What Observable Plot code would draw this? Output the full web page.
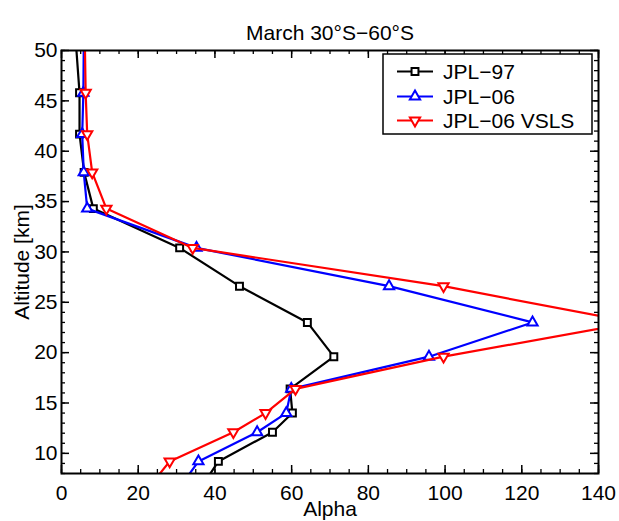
<!DOCTYPE html>
<html>
<head>
<meta charset="utf-8">
<script src="https://cdn.jsdelivr.net/npm/d3@7"></script>
<script src="https://cdn.jsdelivr.net/npm/@observablehq/plot@0.6"></script>
<style>
  html, body { margin: 0; padding: 0; background: #fff; }
  svg { display: block; font-family: "Liberation Sans", Arial, sans-serif; }
</style>
</head>
<body>
<div id="chart"></div>
<script>
// ---- data ----
const altitude = [50.5, 45.8, 41.7, 37.9, 34.3, 30.4, 26.6, 23.0, 19.6, 16.4, 14.0, 12.1, 9.2, 6.5];
const jpl97    = [3.8, 4.7, 4.7, 5.9, 8.3, 30.8, 46.4, 64.1, 71.0, 59.6, 60.2, 55.0, 40.9, 36.2];
const jpl06    = [5.8, 5.7, 5.4, 5.8, 6.7, 35.2, 85.4, 122.8, 95.8, 59.9, 58.6, 51.0, 35.7, 30.6];
const jpl06vsls= [6.1, 6.3, 6.7, 8.0, 11.7, 34.2, 99.6, 149.0, 99.6, 61.0, 53.2, 44.8, 28.2, 22.5];

const seriesNames = ["JPL\u221297", "JPL\u221206", "JPL\u221206 VSLS"];
const seriesColors = ["black", "blue", "red"];
const seriesSymbols = ["square", "triangle", "triangle"];
const seriesRotate = [0, 0, 180];

const xTicks = [0, 20, 40, 60, 80, 100, 120, 140];
const xMinor = d3.range(0, 141, 5);
const yTicks = [10, 15, 20, 25, 30, 35, 40, 45, 50];
const yMinor = d3.range(8, 51, 1);

const titleText = "March 30\u00b0S\u221260\u00b0S";
const xLabel = "Alpha";
const yLabel = "Altitude [km]";

// ---- layout ----
const W = 619, H = 521;
const mL = 61, mR = 21, mT = 50, mB = 48;
const fw = W - mL - mR, fh = H - mT - mB;
const FS = 21;

const values = [jpl97, jpl06, jpl06vsls];
const seriesData = values.map((vals, i) =>
  altitude.map((a, j) => ({alt: a, val: vals[j], series: seriesNames[i]}))
);

const marks = [];
// ticks (inward, all four sides)
marks.push(Plot.tickX(xMinor, {x: d => d, insetTop: fh - 4, stroke: "black", strokeWidth: 1.3}));
marks.push(Plot.tickX(xMinor, {x: d => d, insetBottom: fh - 4, stroke: "black", strokeWidth: 1.3}));
marks.push(Plot.tickX(xTicks, {x: d => d, insetTop: fh - 8, stroke: "black", strokeWidth: 1.5}));
marks.push(Plot.tickX(xTicks, {x: d => d, insetBottom: fh - 8, stroke: "black", strokeWidth: 1.5}));
marks.push(Plot.tickY(yMinor, {y: d => d, insetRight: fw - 4, stroke: "black", strokeWidth: 1.3}));
marks.push(Plot.tickY(yMinor, {y: d => d, insetLeft: fw - 4, stroke: "black", strokeWidth: 1.3}));
marks.push(Plot.tickY(yTicks, {y: d => d, insetRight: fw - 8, stroke: "black", strokeWidth: 1.5}));
marks.push(Plot.tickY(yTicks, {y: d => d, insetLeft: fw - 8, stroke: "black", strokeWidth: 1.5}));

// tick labels
marks.push(Plot.axisX(xTicks, {anchor: "bottom", tickSize: 0, tickPadding: 12, fontSize: FS, label: null}));
marks.push(Plot.axisY(yTicks, {anchor: "left", tickSize: 0, tickPadding: 4, fontSize: FS, label: null}));

// series
seriesData.forEach((d, i) => {
  marks.push(Plot.line(d, {x: "val", y: "alt", stroke: seriesColors[i], strokeWidth: 2.2, clip: true}));
  marks.push(Plot.dot(d, {
    x: "val", y: "alt", symbol: seriesSymbols[i], rotate: seriesRotate[i],
    r: i === 0 ? 3.9 : 3.8, stroke: seriesColors[i], fill: "white", strokeWidth: 2, clip: true
  }));
});

marks.push(Plot.frame({stroke: "black", strokeWidth: 2}));

// titles
marks.push(Plot.text([titleText], {frameAnchor: "top", dy: -25, fontSize: FS, fill: "black"}));
marks.push(Plot.text([xLabel], {frameAnchor: "bottom", dy: 42, fontSize: FS, fill: "black"}));
marks.push(Plot.text([yLabel], {frameAnchor: "left", textAnchor: "middle", dx: -39, rotate: -90, fontSize: FS, fill: "black"}));

const plot = Plot.plot({
  width: W, height: H,
  marginLeft: mL, marginRight: mR, marginTop: mT, marginBottom: mB,
  style: {fontFamily: "'Liberation Sans', Arial, sans-serif", fontSize: FS + "px", color: "black", background: "white", overflow: "visible"},
  x: {domain: [0, 140], axis: null},
  y: {domain: [8, 50], axis: null},
  marks
});
document.getElementById("chart").appendChild(plot);

// ---- legend ----
const svg = d3.select(plot);
const lg = svg.append("g").attr("class", "legend");
const bx = 383, by = 54, bw = 209, bh = 80;
lg.append("rect").attr("x", bx).attr("y", by).attr("width", bw).attr("height", bh)
  .attr("fill", "white").attr("stroke", "black").attr("stroke-width", 1.5);
const rowY = [71.5, 96.5, 120.5];
const symGen = {square: d3.symbolSquare, triangle: d3.symbolTriangle};
seriesNames.forEach((name, i) => {
  const y = rowY[i];
  lg.append("line").attr("x1", 397).attr("x2", 433).attr("y1", y).attr("y2", y)
    .attr("stroke", seriesColors[i]).attr("stroke-width", 2.2);
  const r = i === 0 ? 3.9 : 3.8;
  lg.append("path")
    .attr("d", d3.symbol(symGen[seriesSymbols[i]], r * r * Math.PI)())
    .attr("transform", `translate(415,${y}) rotate(${seriesRotate[i]})`)
    .attr("fill", "white").attr("stroke", seriesColors[i]).attr("stroke-width", 2);
  lg.append("text").attr("x", 443).attr("y", y).attr("dy", "0.35em")
    .attr("text-anchor", "start")
    .attr("font-size", FS).attr("fill", "black").text(name);
});
</script>
</body>
</html>
